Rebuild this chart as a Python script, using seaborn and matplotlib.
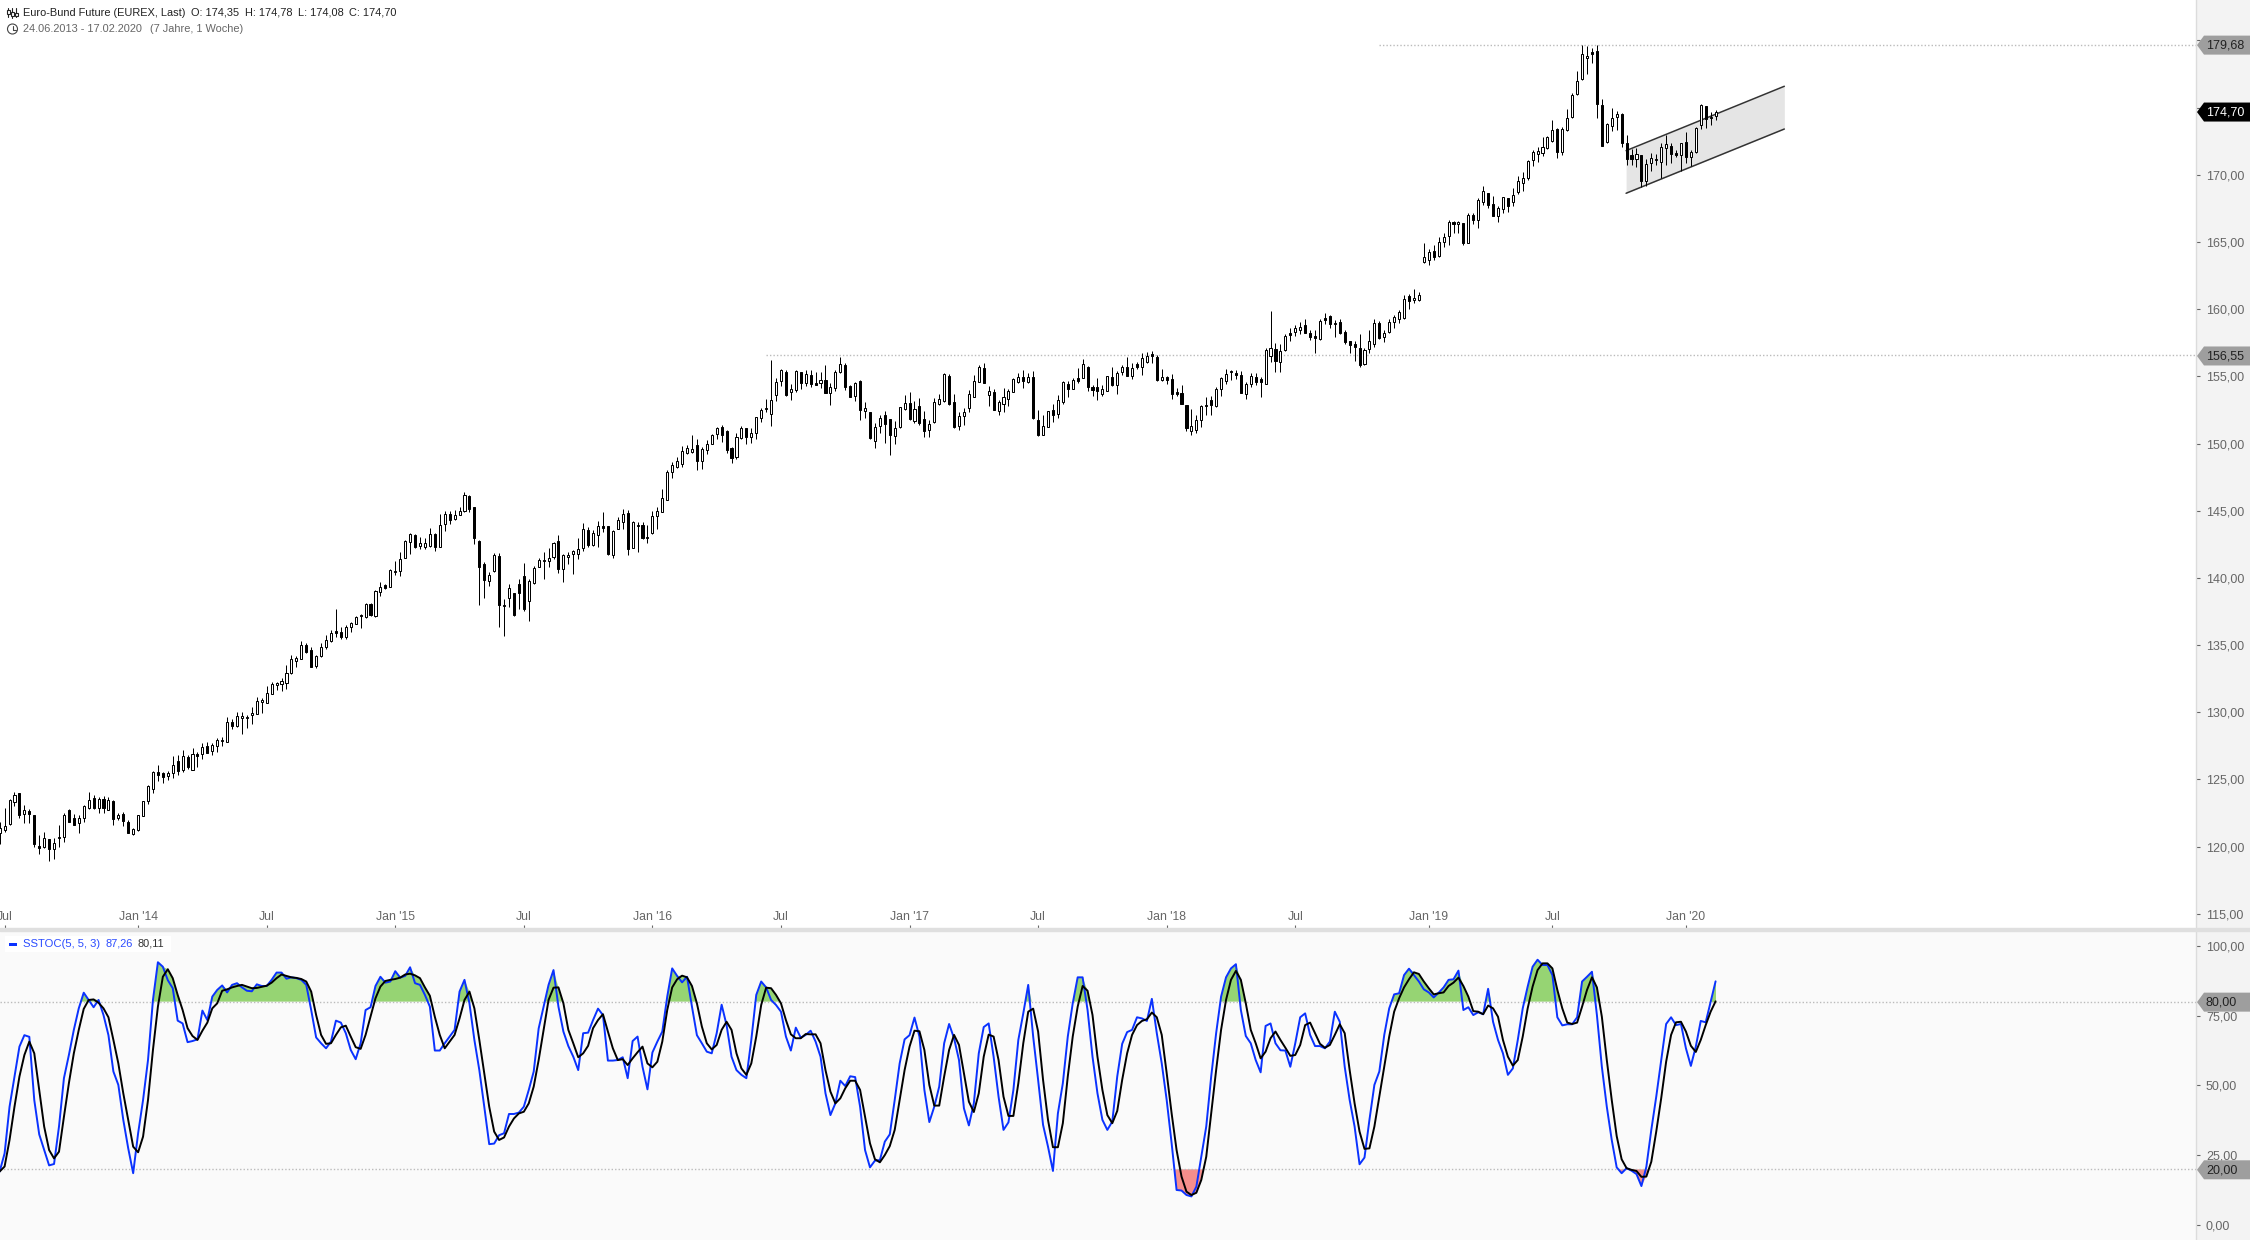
import numpy as np
import matplotlib
matplotlib.use("Agg")
import matplotlib.pyplot as plt
from matplotlib.lines import Line2D
from matplotlib.patches import Circle, Polygon, Rectangle
from matplotlib.transforms import IdentityTransform
import seaborn as sns

# weekly candles, 24.06.2013 - 17.02.2020
body_top = [
    121.37,121.57,123.48,123.83,123.97,122.71,122.64,122.36,120.03,120.63,
    120.55,120.25,120.73,122.34,122.73,122.11,122.11,123.01,123.50,123.60,
    123.53,123.53,123.45,123.40,122.34,122.46,121.82,121.30,122.34,123.38,
    124.52,125.59,125.54,125.46,125.46,126.06,126.36,126.73,126.68,126.88,
    126.90,127.40,127.47,127.57,127.92,127.94,129.26,129.26,129.70,129.75,
    129.65,129.98,130.84,130.89,131.42,132.08,132.16,132.31,132.90,133.94,
    134.02,134.99,135.01,134.64,134.17,134.84,135.36,135.88,136.03,135.95,
    136.35,136.62,137.07,137.24,138.06,138.06,139.00,139.35,139.48,140.57,
    140.54,141.39,142.75,143.25,143.20,142.63,142.63,143.27,143.27,143.91,
    144.76,144.73,144.66,144.96,146.15,146.07,145.28,142.77,141.04,140.19,
    141.68,141.63,137.96,139.23,138.86,139.53,140.12,139.75,140.74,141.31,
    141.34,141.46,142.60,142.75,141.71,141.73,141.98,142.13,143.62,143.57,
    143.32,143.84,143.84,143.84,143.49,144.34,144.78,144.81,144.16,143.94,
    143.94,143.02,144.63,145.01,145.92,147.86,148.38,148.68,149.47,149.64,
    149.60,149.90,149.57,149.94,150.61,151.15,151.20,150.93,149.67,150.46,
    151.13,151.15,150.81,151.95,152.47,152.62,153.21,154.55,155.44,155.32,
    154.03,155.40,155.30,155.15,155.10,154.48,154.70,154.70,154.18,155.30,
    155.89,155.82,154.25,154.48,154.65,152.67,152.34,151.20,151.87,152.10,
    151.80,151.13,152.69,153.04,152.99,152.54,152.77,151.80,151.43,153.06,
    153.34,155.17,155.05,153.06,152.02,152.37,153.66,154.63,155.69,155.62,
    153.88,153.83,153.06,153.44,153.91,154.78,154.92,154.95,154.97,154.92,
    151.75,151.28,152.39,152.49,153.24,154.58,154.40,154.70,154.85,155.89,
    155.69,154.18,154.18,154.03,155.00,154.95,155.25,155.67,155.69,155.64,
    155.89,156.34,156.51,156.64,156.46,154.92,154.92,154.78,153.81,153.73,
    152.87,151.28,151.75,152.77,152.84,153.21,154.03,154.85,155.15,155.37,
    155.22,155.07,154.40,155.02,154.92,154.78,156.93,157.08,157.01,156.86,
    157.97,158.20,158.57,158.69,158.82,158.20,158.00,159.09,159.31,159.46,
    158.94,159.02,158.27,157.60,157.38,157.08,156.93,157.60,158.94,158.94,
    158.25,159.02,159.39,159.76,160.78,160.95,160.85,161.02,163.86,164.23,
    164.30,164.97,165.34,166.46,166.46,166.46,166.38,166.98,166.98,168.10,
    168.77,168.62,167.82,167.50,168.32,168.25,168.47,169.51,169.73,171.02,
    171.72,171.74,172.04,172.78,173.30,173.38,173.38,174.25,175.91,177.00,
    178.96,178.81,179.11,179.18,175.16,173.75,174.25,174.50,174.50,172.34,
    171.47,171.52,171.47,170.77,171.22,171.14,172.04,172.26,172.14,171.59,
    172.34,172.43,171.67,173.48,175.21,175.11,174.32,174.70,
]
body_bottom = [
    121.00,121.25,121.67,123.35,122.39,122.46,122.41,120.18,119.93,119.96,
    119.83,119.86,120.68,120.75,121.87,121.64,121.79,122.11,122.86,122.86,
    122.91,122.91,122.76,122.09,122.16,121.94,121.05,120.92,121.22,122.31,
    123.38,124.32,125.36,125.21,125.24,125.51,125.66,125.74,125.96,125.74,
    126.78,126.93,127.00,127.10,127.47,127.87,127.82,129.01,128.98,129.60,
    129.60,129.78,129.90,130.79,130.72,131.39,132.03,132.11,132.21,132.93,
    133.80,134.00,134.49,133.40,133.42,134.19,134.84,135.28,135.90,135.63,
    135.61,136.38,136.60,137.19,137.12,137.24,137.19,138.98,139.23,139.35,
    140.47,140.52,141.51,142.70,142.30,142.40,142.28,142.38,142.33,142.33,
    143.99,144.34,144.39,144.71,145.01,145.15,142.95,140.84,139.85,139.80,
    140.52,137.99,137.94,138.48,137.24,138.86,137.67,138.31,139.62,140.84,
    141.24,141.29,141.56,140.64,140.69,141.58,141.81,141.81,142.25,142.45,
    142.48,143.22,143.74,141.78,141.71,143.67,144.19,142.18,142.25,143.89,
    142.97,142.97,143.32,144.58,144.93,145.82,147.91,148.23,148.48,149.32,
    149.40,148.70,148.72,149.54,149.96,150.73,150.66,149.54,148.95,149.02,
    150.39,150.46,150.51,150.76,151.87,152.57,152.22,153.63,154.63,153.58,
    153.81,153.96,154.53,154.48,154.43,154.38,154.48,153.78,153.73,154.11,
    155.30,154.23,153.49,153.56,152.47,152.39,150.41,150.21,151.33,151.48,
    150.66,150.53,151.20,152.54,151.85,151.70,151.53,150.96,151.03,151.58,
    152.92,153.16,152.92,151.23,151.33,152.07,152.67,153.49,154.60,154.53,
    153.63,152.49,152.42,152.97,153.34,153.86,154.58,154.68,154.58,151.90,
    150.66,150.66,151.25,152.15,152.22,153.11,154.08,154.08,154.63,154.90,
    154.23,154.01,153.93,153.68,153.93,154.35,154.33,155.35,155.05,155.05,
    155.72,155.67,156.09,156.54,154.73,154.73,154.75,153.71,153.68,152.96,
    151.18,150.96,151.03,151.75,152.79,152.87,152.79,154.03,154.68,155.32,
    155.10,153.78,153.71,154.43,154.58,154.58,154.45,156.49,156.16,156.09,
    156.96,158.07,158.32,158.47,158.25,157.95,157.85,157.80,159.21,158.92,
    158.92,158.22,157.58,157.35,157.18,155.84,155.89,157.01,157.38,157.87,
    157.90,158.27,159.02,159.24,159.31,160.63,160.70,160.65,163.48,163.68,
    163.86,163.98,164.97,165.42,166.31,166.31,164.95,164.95,166.66,166.61,
    167.95,167.77,166.96,166.96,167.43,167.65,167.95,168.74,169.41,169.78,
    171.07,171.52,171.64,171.97,172.54,171.67,171.72,173.35,174.27,175.98,
    177.10,178.66,179.01,175.24,172.16,172.46,173.60,174.32,172.39,171.19,
    171.19,171.19,169.53,169.53,170.85,171.10,170.97,172.01,171.52,171.47,
    171.49,171.32,171.29,171.72,173.72,174.12,174.25,174.35,
]
wick_high = [
    121.87,122.86,123.53,124.07,124.02,123.11,122.78,122.36,120.87,121.07,
    120.55,120.63,121.62,122.49,122.78,122.44,122.36,123.11,124.07,123.83,
    123.68,123.78,123.73,123.45,122.49,122.56,121.99,121.39,122.36,123.43,
    124.59,125.61,126.08,125.59,125.66,126.75,126.83,127.20,126.83,127.32,
    127.03,127.69,127.82,127.69,128.07,128.14,129.65,129.48,130.05,130.05,
    129.80,130.37,131.14,131.04,131.96,132.28,132.23,132.56,133.52,134.24,
    134.19,135.28,135.13,134.89,134.29,135.13,135.75,136.10,137.69,136.38,
    136.50,136.75,137.19,137.34,138.14,138.14,139.10,139.72,139.55,140.64,
    141.29,141.96,142.82,143.32,143.27,143.02,142.95,143.69,143.37,144.73,
    144.96,144.98,145.06,145.28,146.40,146.17,145.30,142.82,141.21,140.47,
    141.86,141.88,138.41,139.53,138.86,139.90,141.09,139.90,140.86,141.46,
    141.91,142.25,142.65,143.20,141.76,141.91,142.08,142.95,144.09,143.77,
    143.57,144.24,144.93,143.89,143.57,144.51,145.13,145.03,144.21,144.16,
    144.14,143.94,144.96,145.25,146.62,148.03,148.60,148.97,149.80,149.90,
    150.60,150.30,149.77,150.26,150.71,151.25,151.38,151.00,149.77,150.76,
    151.28,151.18,151.13,152.00,152.62,153.29,156.21,154.85,155.52,155.47,
    154.40,155.47,155.35,155.47,155.47,155.35,155.35,155.84,154.48,155.47,
    156.46,155.97,154.35,154.60,154.73,153.06,152.37,151.50,152.15,152.39,
    151.82,151.67,152.74,153.61,153.83,153.16,153.36,152.42,151.75,153.36,
    153.66,155.27,155.15,153.68,152.37,152.62,153.98,155.07,155.82,155.97,
    154.28,154.06,153.24,154.11,154.06,154.85,155.22,155.47,155.27,155.40,
    152.49,152.12,152.44,152.94,153.61,154.63,154.65,154.85,155.64,156.31,
    155.79,154.35,154.85,154.35,155.05,155.67,155.40,155.84,156.46,155.97,
    156.09,156.71,156.83,156.88,156.59,155.54,155.02,155.15,154.11,154.35,
    152.89,152.57,152.12,152.87,153.49,153.54,154.23,154.97,155.52,155.49,
    155.47,155.40,154.60,155.22,155.22,154.92,157.08,159.86,157.45,157.38,
    158.15,158.57,158.82,159.07,159.24,158.45,158.45,159.26,159.69,159.56,
    159.19,159.26,158.45,157.65,157.60,158.15,157.08,158.45,159.26,159.12,
    158.45,159.26,159.56,159.93,161.02,161.12,161.50,161.25,164.90,164.48,
    164.77,165.34,165.67,166.63,166.56,166.56,166.43,167.15,167.18,168.25,
    169.16,168.67,168.42,167.67,168.37,168.30,168.99,169.91,170.18,171.10,
    171.84,172.04,172.83,172.88,174.07,173.48,173.58,174.87,176.06,177.69,
    179.65,179.58,179.41,179.68,175.61,173.82,174.94,174.74,174.57,172.96,
    171.91,172.01,171.47,171.14,171.59,171.54,172.38,172.96,172.38,171.84,
    172.34,173.15,171.84,173.58,175.26,175.11,174.64,174.78,
]
wick_low = [
    120.21,121.12,121.62,123.06,122.16,121.79,121.74,120.01,119.46,119.88,
    118.96,119.09,120.01,120.38,121.82,121.62,121.05,121.87,122.83,122.81,
    122.54,122.54,122.73,121.62,121.99,121.54,121.05,120.90,121.20,122.29,
    123.18,124.02,124.89,124.77,124.97,125.12,125.36,125.59,125.78,125.71,
    125.96,126.53,126.95,126.83,127.03,127.50,127.79,128.74,128.93,128.39,
    128.84,129.13,129.88,129.93,130.70,131.37,131.66,131.61,131.74,132.88,
    133.40,133.97,134.44,133.35,133.30,134.14,134.71,135.26,135.58,135.46,
    135.46,135.95,136.55,136.28,137.04,137.19,137.12,138.66,139.18,139.33,
    140.22,140.15,141.46,141.78,142.23,142.15,142.18,142.30,142.00,142.30,
    143.49,144.01,144.34,144.68,144.91,144.93,142.53,138.00,138.48,139.40,
    140.42,136.38,135.68,137.86,137.17,137.69,137.52,136.80,139.55,140.79,
    139.92,140.84,141.41,140.34,139.70,141.04,140.30,141.41,142.00,142.30,
    142.38,142.30,143.42,141.71,141.46,143.62,143.67,141.71,142.20,141.96,
    142.87,142.60,143.27,143.64,144.88,145.80,147.46,148.16,148.28,149.20,
    149.30,148.00,148.10,149.22,149.94,150.34,150.14,149.32,148.55,148.87,
    150.36,149.96,150.04,150.36,151.60,152.37,151.30,153.16,154.30,153.54,
    153.24,153.81,154.03,154.30,154.20,154.35,154.13,153.73,152.87,153.93,
    155.27,154.00,153.44,153.16,151.75,151.92,150.31,149.67,150.81,150.01,
    149.15,149.96,151.18,152.49,151.75,151.55,151.38,150.51,150.49,151.53,
    152.87,153.09,152.87,151.18,151.00,151.38,152.37,153.46,154.55,154.48,
    152.79,152.47,152.15,152.34,152.79,153.83,154.53,154.11,154.48,151.85,
    150.58,150.63,151.23,151.60,151.92,152.97,153.44,154.06,154.48,154.85,
    153.93,153.54,153.24,153.54,153.91,154.30,153.68,155.10,155.02,154.80,
    155.52,155.10,156.02,155.97,154.65,154.68,154.40,153.31,153.54,152.92,
    150.96,150.63,150.78,151.23,152.12,152.12,152.74,153.54,154.43,154.73,
    154.78,153.76,153.31,154.18,154.35,153.44,154.43,156.09,155.32,155.35,
    156.88,157.63,158.00,158.15,158.20,157.70,156.76,157.73,158.89,158.62,
    157.92,158.15,157.40,156.76,156.16,155.69,155.82,156.76,157.21,157.78,
    157.58,158.25,158.62,158.99,159.29,160.03,160.48,160.63,163.46,163.28,
    163.66,163.91,164.60,164.80,165.69,165.69,164.80,164.90,166.34,166.04,
    167.77,167.55,166.93,166.48,167.15,167.23,167.70,168.59,168.79,169.63,
    170.68,170.95,171.37,171.94,172.44,171.27,171.49,173.25,174.25,175.96,
    177.07,177.52,178.29,174.25,172.16,172.39,173.28,173.35,172.09,170.72,
    170.72,170.60,169.11,169.16,170.30,170.72,169.73,170.72,170.90,171.34,
    170.28,170.85,170.65,171.59,173.38,173.45,173.70,174.08,
]
# weeks that closed lower (filled candles)
down_weeks = [
    4,6,7,8,10,14,15,19,21,23,25,26,32,33,36,38,40,42,47,62,63,68,69,75,78,84,88,91,
    95,96,97,98,101,104,105,106,113,119,122,123,127,130,141,146,147,148,151,159,162,
    164,165,167,171,172,174,176,179,180,184,186,187,192,193,199,201,207,209,210,213,
    216,218,220,221,222,225,228,230,233,234,236,237,238,239,240,245,250,251,254,255,
    258,261,264,265,266,268,269,271,272,273,274,275,279,285,290,294,296,298,301,302,
    305,315,322,323,324,328,329,330,332,338,339,341,345,
]

sstoc_k = [
    19.2,25.7,42.4,53.2,63.9,68,67.4,44.8,32.5,26.9,
    21.4,21.9,35.3,52.6,60.9,69.9,77.6,83.2,80.6,78,
    80.6,75.2,68,55,50.2,37.7,27.5,18.6,32.9,44.8,
    59.1,80.6,94.1,92.5,87.7,84.8,73.2,72.2,65.5,65.9,
    66.5,76.8,73.4,81.8,84.2,85.8,83.3,86,86.6,85.1,
    83.9,83.7,86.2,85.6,85.6,87.8,90.4,90.4,88.2,88.7,
    88.4,87.8,86,77,67.2,65.1,63.3,65.7,73.2,72.5,
    68.7,62.7,59.4,65.1,77,78,85.6,88.9,86.8,87.2,
    90.9,88.6,89.2,92.3,86.6,86,82.4,78.2,62.5,62.5,
    65.1,67.5,69.9,83.6,87.8,79.4,66.3,55.5,42.4,29,
    29.2,32.2,32.9,39.8,39.8,40.3,42.4,48.4,55,70.4,
    78.2,86,91.3,78.2,69.3,64.1,60.3,55.5,68.7,68.9,
    73.4,77.5,75.2,58.9,58.9,59.1,60.1,52.6,65.9,67.5,
    56.7,48.6,61.8,65.7,69.3,81.8,91.9,89.2,86.9,88.9,
    78.2,68,65.1,62.1,61.5,68.7,78.9,71.6,60.3,55.5,
    53.8,52.6,66.3,82.4,87.2,85.1,80.6,78.8,76.4,67.5,
    62.5,70.7,67.1,68.1,69.6,65.7,60.3,47.2,39.4,43.6,
    51.7,49.8,53.3,53,42.4,26.9,20.7,23.1,23.3,29.9,
    32.5,44.8,57.9,66.5,68,74.3,67.5,48.4,36.9,42.4,
    49.6,65.1,72,66.9,59.1,41.8,35.7,43.6,61.5,70.9,
    72.2,60.3,46,34.1,36.8,48.4,66.3,75.8,86,67.5,
    52,35.9,28.1,19.4,40,50.8,67.5,79.4,88.7,88.7,
    77,60.3,47.2,37.7,34.1,37.1,53.2,64.9,69.1,69.9,
    74.4,74,73.1,81,68.7,57.9,44.8,29.3,12.6,12.4,
    10.8,10.3,13.8,24.5,35.3,53.2,68.7,81.8,88.7,91.9,
    93.4,77,67.7,65.1,59.1,54.7,71.3,72.2,65.1,62.6,
    62.5,56.7,65.1,74.4,75.8,68.1,64.1,64.1,63.3,65.7,
    76.4,72.8,56.7,44.8,35.3,21.8,24.2,37.7,50.2,55,
    68.1,77.6,82.6,83,89.5,91.8,89.5,87.2,84.4,83.3,
    81.5,83.2,85.1,87.8,88,91.1,77,78,75.2,76.2,
    75.5,84.6,72.8,66.3,61.5,53.8,56.1,66.3,77.6,85.4,
    92.5,95,93.1,93.1,89.5,74.4,71.5,71.9,71.9,74.4,
    87.2,88.9,90.7,75.2,56.7,42.4,30.5,20.7,18.6,20.4,
    19.5,18.3,14,20.9,34.1,46,59.1,72,74.4,71.6,
    72,63.3,57,63.9,73.1,72.6,80,87.26,
]
sstoc_d = [
    19.2,21,30.5,42.4,53.2,60.9,65.7,61.5,48.4,35.3,
    26.9,23.9,26.3,38.8,50.8,61.5,69.9,77.4,80.6,80.8,
    79.6,77.6,74.4,66.3,57.9,47.2,37.7,28.1,26.1,31.7,
    44.8,62.7,78.2,88.9,91.6,88.4,82.4,77,70.5,67.7,
    66.3,69.6,72.5,77.6,79.4,83.9,84.4,85.1,85.6,86,
    85.4,84.8,84.9,85.3,85.7,86.8,88.4,89.7,89.2,88.7,
    88.5,88.1,87.2,83.6,75.2,68.1,64.9,65.1,68.1,70.8,
    71.4,67.5,63.7,63.1,68.1,74.6,81.2,85.4,87.4,87.8,
    88.1,88.6,89.7,90,89.4,88.4,85.1,82.1,74.6,68.1,
    63.3,65.7,68.1,74,80.6,83.6,77.6,66.3,54.4,42.4,
    33.5,30.5,31.4,35.3,38.2,40,40.6,43.6,49.6,59.1,
    69.9,80.6,85,85.1,79.4,69.9,65.1,60.1,61.5,64.2,
    70.5,73.4,75.5,69.3,63.3,59.1,59.4,57.3,59.7,61.9,
    63.9,57.9,56.5,58.5,65.7,77,85.1,88,89.3,88.7,
    85.6,79.4,71.1,65.1,62.9,64.5,69.9,72.8,69.9,61.5,
    56.1,53.8,57.9,67.5,78.8,85,84.8,82.4,79.4,73.4,
    68.3,66.9,66.9,68.4,68.3,68.3,65.1,55.5,47.8,43.6,
    45.4,49,51.7,51.7,48.4,38.8,29.3,23.6,22.5,25.1,
    28.3,34.1,44.8,55.5,63.9,69.6,69.4,62.7,50.2,42.8,
    42.8,53.2,62.7,68.1,64.5,54.4,44.2,40.5,47.2,60.3,
    68.2,67.5,59.1,46,39.1,39.1,50.8,65.1,76.4,77.5,
    69.3,52,37.7,27.9,27.9,36.5,53.2,67.5,78.2,85.6,
    83.9,75.2,60.3,48.4,39.4,36.5,40.9,52,61.5,68.1,
    71.6,73.1,73.7,76.1,74.4,68.1,54.4,40,26.9,17.4,
    12,10.8,11.6,16.2,24.5,40,55.5,69.9,80.6,87.8,
    91,87.8,79.4,69.9,65.1,59.7,62.1,66.9,69.3,66.3,
    63.5,60.6,60.9,64.5,71.6,72.5,68.7,64.9,63.5,64.5,
    68.1,71.9,68.7,55.5,43.6,33.5,27.3,27.5,35.3,46,
    56.7,67.5,76.4,81.2,85.1,88,90.5,89.9,87.2,84.8,
    82.6,83,83.3,85.6,86.8,88.6,85.6,81.8,76.6,76.4,
    75.5,78.6,77.6,74.6,66.3,60.3,57.1,59.1,67.5,77.6,
    85.4,91.3,93.7,93.7,91.9,84.2,77.6,72.5,72,72.5,
    78.2,84.2,88.7,85.1,74.6,59.1,44.8,31.9,23.6,20.4,
    19.8,19.4,17.3,17.4,22.7,33.5,45.4,58.5,68.1,72.6,
    72.8,69.3,64.2,62,66.3,71.6,76.4,80.11,
]

x_tick_weeks = [1, 28, 54, 80, 106, 132, 158, 184, 210, 236, 262, 289, 314, 341]
x_tick_labels = ["Jul", "Jan '14", "Jul", "Jan '15", "Jul", "Jan '16", "Jul", "Jan '17",
                 "Jul", "Jan '18", "Jul", "Jan '19", "Jul", "Jan '20"]
price_ticks = list(range(115, 185, 5))
stoch_ticks = [0, 25, 50, 75, 100]

channel_weeks = [328.9, 360.9]
channel_upper = [171.79, 176.58]
channel_lower = [168.62, 173.40]
high_level, high_start = 179.68, 278.9
low_level, low_start = 156.55, 155
last_close = 174.70

W, H = 2250, 1240
AXIS_X = 2196
INK = "#666666"

sns.set_theme(style="white")
plt.rcParams["font.family"] = ["Liberation Sans", "DejaVu Sans"]
plt.rcParams["font.size"] = 9

fig = plt.figure(figsize=(W / 100, H / 100), dpi=100, facecolor="#F3F3F3")


def pane(top, bottom):
    return fig.add_axes([0, 1 - bottom / H, AXIS_X / W, (bottom - top) / H])


ax = pane(0, 928)
ax_st = pane(931, 1240)
ax.set_facecolor("white")
ax_st.set_facecolor("#FAFAFA")
fig.add_artist(Rectangle((0, 1 - 931 / H), 1, 3 / H, color="#DFDFDF", transform=fig.transFigure))

weeks = np.arange(len(body_top))
xlim = (0.07, 444.15)

# price pane
ax.fill_between(channel_weeks, channel_lower, channel_upper, color="#E5E5E5", lw=0, zorder=1)
sns.lineplot(x=channel_weeks, y=channel_upper, color="#333333", lw=1.1, ax=ax, zorder=2)
sns.lineplot(x=channel_weeks, y=channel_lower, color="#333333", lw=1.1, ax=ax, zorder=2)
ax.hlines(high_level, high_start, xlim[1], color="#BBBBBB", lw=1, linestyles=(0, (1, 1.5)), zorder=1)
ax.hlines(low_level, low_start, xlim[1], color="#BBBBBB", lw=1, linestyles=(0, (1, 1.5)), zorder=1)

ax.vlines(weeks, wick_low, wick_high, color="black", lw=0.72, zorder=3)
face = ["black" if w in down_weeks else "white" for w in weeks]
heights = np.array(body_top) - np.array(body_bottom)
ax.bar(weeks, heights, bottom=body_bottom, width=0.42, color=face, edgecolor="black", linewidth=0.72, zorder=4)

ax.set_xlim(xlim)
ax.set_ylim(113.95, 183.0)
ax.set_xticks(x_tick_weeks, labels=x_tick_labels)
ax.tick_params(axis="x", direction="in", length=2.2, width=0.8, color=INK, labelcolor=INK, labelsize=8.8, pad=-12.2, bottom=True)
ax.yaxis.tick_right()
ax.set_yticks(price_ticks, labels=[f"{t:.2f}".replace(".", ",") for t in price_ticks])

# stochastic pane
k = np.array(sstoc_k)
d = np.array(sstoc_d)
upper = np.maximum(k, d)
lower = np.minimum(k, d)
ax_st.fill_between(weeks, 80, upper, where=upper > 80, interpolate=True, color="#96D473", lw=0, zorder=1)
ax_st.fill_between(weeks, 20, lower, where=lower < 20, interpolate=True, color="#F58E8C", lw=0, zorder=1)
ax_st.hlines([80, 20], xlim[0], xlim[1], color="#BBBBBB", lw=1, linestyles=(0, (1, 1.5)), zorder=1)
sns.lineplot(x=weeks, y=k, color="#0A32FF", lw=1.4, ax=ax_st, zorder=3)
sns.lineplot(x=weeks, y=d, color="black", lw=1.4, ax=ax_st, zorder=4)
ax_st.set_xlim(xlim)
ax_st.set_ylim(-5.3, 105.28)
ax_st.set_xticks([])
ax_st.yaxis.tick_right()
ax_st.set_yticks(stoch_ticks, labels=[f"{t:.2f}".replace(".", ",") for t in stoch_ticks])

for a in (ax, ax_st):
    sns.despine(ax=a, left=True, top=True, bottom=True, right=False)
    a.spines["right"].set_color("#DCDCDC")
    a.spines["right"].set_linewidth(1)
    a.tick_params(axis="y", which="major", right=True, direction="out", length=3, width=0.8,
                  color=INK, labelcolor=INK, labelsize=9.0, pad=4.2)
    a.grid(False)


def flag(axis, value, label, fill, ink):
    # value tag on the right scale, tip on the axis line
    y = axis.transData.transform((0, value))[1] - 0.5
    pts = [(AXIS_X + 1, y), (AXIS_X + 8, y + 9.5), (W, y + 9.5), (W, y - 9.5), (AXIS_X + 8, y - 9.5)]
    fig.add_artist(Polygon(pts, closed=True, color=fill, lw=0, transform=IdentityTransform(), zorder=5))
    fig.text(AXIS_X + 10, y - 0.5, label, color=ink, fontsize=9.0, va="center", ha="left",
             transform=IdentityTransform(), zorder=6)


flag(ax, high_level, "179,68", "#9E9E9E", "#222222")
flag(ax, last_close, "174,70", "black", "white")
flag(ax, low_level, "156,55", "#9E9E9E", "#222222")
flag(ax_st, 80, "80,00", "#9E9E9E", "#222222")
flag(ax_st, 20, "20,00", "#9E9E9E", "#222222")


def put(x, y, text, color, size=7.9):
    fig.text(x, H - y, text, color=color, fontsize=size, va="center", ha="left",
             transform=IdentityTransform(), zorder=7)


# header
put(23, 12.5, "Euro-Bund Future (EUREX, Last)", "#222222")
put(191, 12.5, "O: 174,35", "#222222")
put(245, 12.5, "H: 174,78", "#222222")
put(298, 12.5, "L: 174,08", "#222222")
put(349, 12.5, "C: 174,70", "#222222")
put(23, 28.5, "24.06.2013 - 17.02.2020", INK)
put(150, 28.5, "(7 Jahre, 1 Woche)", INK)

# small header icons
tr = IdentityTransform()
for x0, y0, y1, by0, by1 in [(8, 8, 17, 10, 14), (12, 8, 18, 12, 16), (16, 8, 17, 13, 16)]:
    fig.add_artist(Line2D([x0, x0], [H - y0, H - y1], color="#222222", lw=0.8, transform=tr, zorder=7))
    fig.add_artist(Rectangle((x0 - 1.5, H - by1), 3, by1 - by0, fc="white", ec="#222222", lw=0.8, transform=tr, zorder=8))
fig.add_artist(Circle((12.5, H - 29), 5, fc="none", ec="#444444", lw=0.8, transform=tr, zorder=7))
fig.add_artist(Line2D([12.5, 12.5, 15.5], [H - 26, H - 29.5, H - 29.5], color="#444444", lw=0.8, transform=tr, zorder=7))

# indicator legend
fig.add_artist(Rectangle((5, H - 952), 166, 16, fc="white", ec="none", transform=tr, zorder=6))
fig.add_artist(Rectangle((9, H - 945.5), 8, 3, fc="#0A32FF", ec="none", transform=tr, zorder=7))
put(23, 944, "SSTOC(5, 5, 3)", "#2A4BFF", size=8.1)
put(105, 944, "87,26", "#2A4BFF")
put(138, 944, "80,11", "#333333")

fig.savefig("out.png", dpi=100, facecolor=fig.get_facecolor())
